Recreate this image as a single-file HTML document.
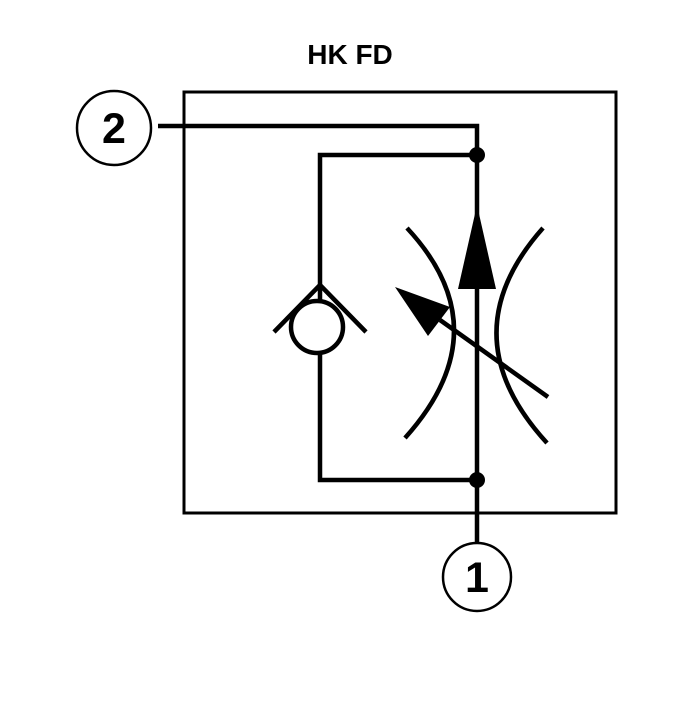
<!DOCTYPE html>
<html><head><style>body{margin:0;background:#fff}</style></head><body>
<svg width="700" height="700" viewBox="0 0 700 700" xmlns="http://www.w3.org/2000/svg">
<rect width="700" height="700" fill="#fff"/>
<text x="350" y="64" text-anchor="middle" font-family="Liberation Sans, sans-serif" font-weight="bold" font-size="28">HK FD</text>
<rect x="184" y="92" width="432" height="421" fill="none" stroke="#000" stroke-width="3"/>
<g stroke="#000" stroke-width="4.5" fill="none">
<polyline points="158,126 477,126 477,543"/>
<polyline points="477,155 320,155 320,480 477,480"/>
<polyline points="274,332 320,285 366,332"/>
<circle cx="317" cy="327" r="26" fill="#fff"/>
<path d="M407,228 Q502,330 405,438"/>
<path d="M543,228 Q448,335 547,443"/>
<line x1="548" y1="397" x2="440" y2="320"/>
</g>
<circle cx="477" cy="155" r="8"/>
<circle cx="477" cy="480" r="8"/>
<polygon points="477,205 496,289 458,289"/>
<polygon points="395,287 450,307 428,336"/>
<circle cx="114" cy="128" r="37" fill="none" stroke="#000" stroke-width="2.5"/>
<text x="114" y="143" text-anchor="middle" font-family="Liberation Sans, sans-serif" font-weight="bold" font-size="43">2</text>
<circle cx="477" cy="577" r="34" fill="none" stroke="#000" stroke-width="2.5"/>
<text x="477" y="592" text-anchor="middle" font-family="Liberation Sans, sans-serif" font-weight="bold" font-size="43">1</text>
</svg>
</body></html>
